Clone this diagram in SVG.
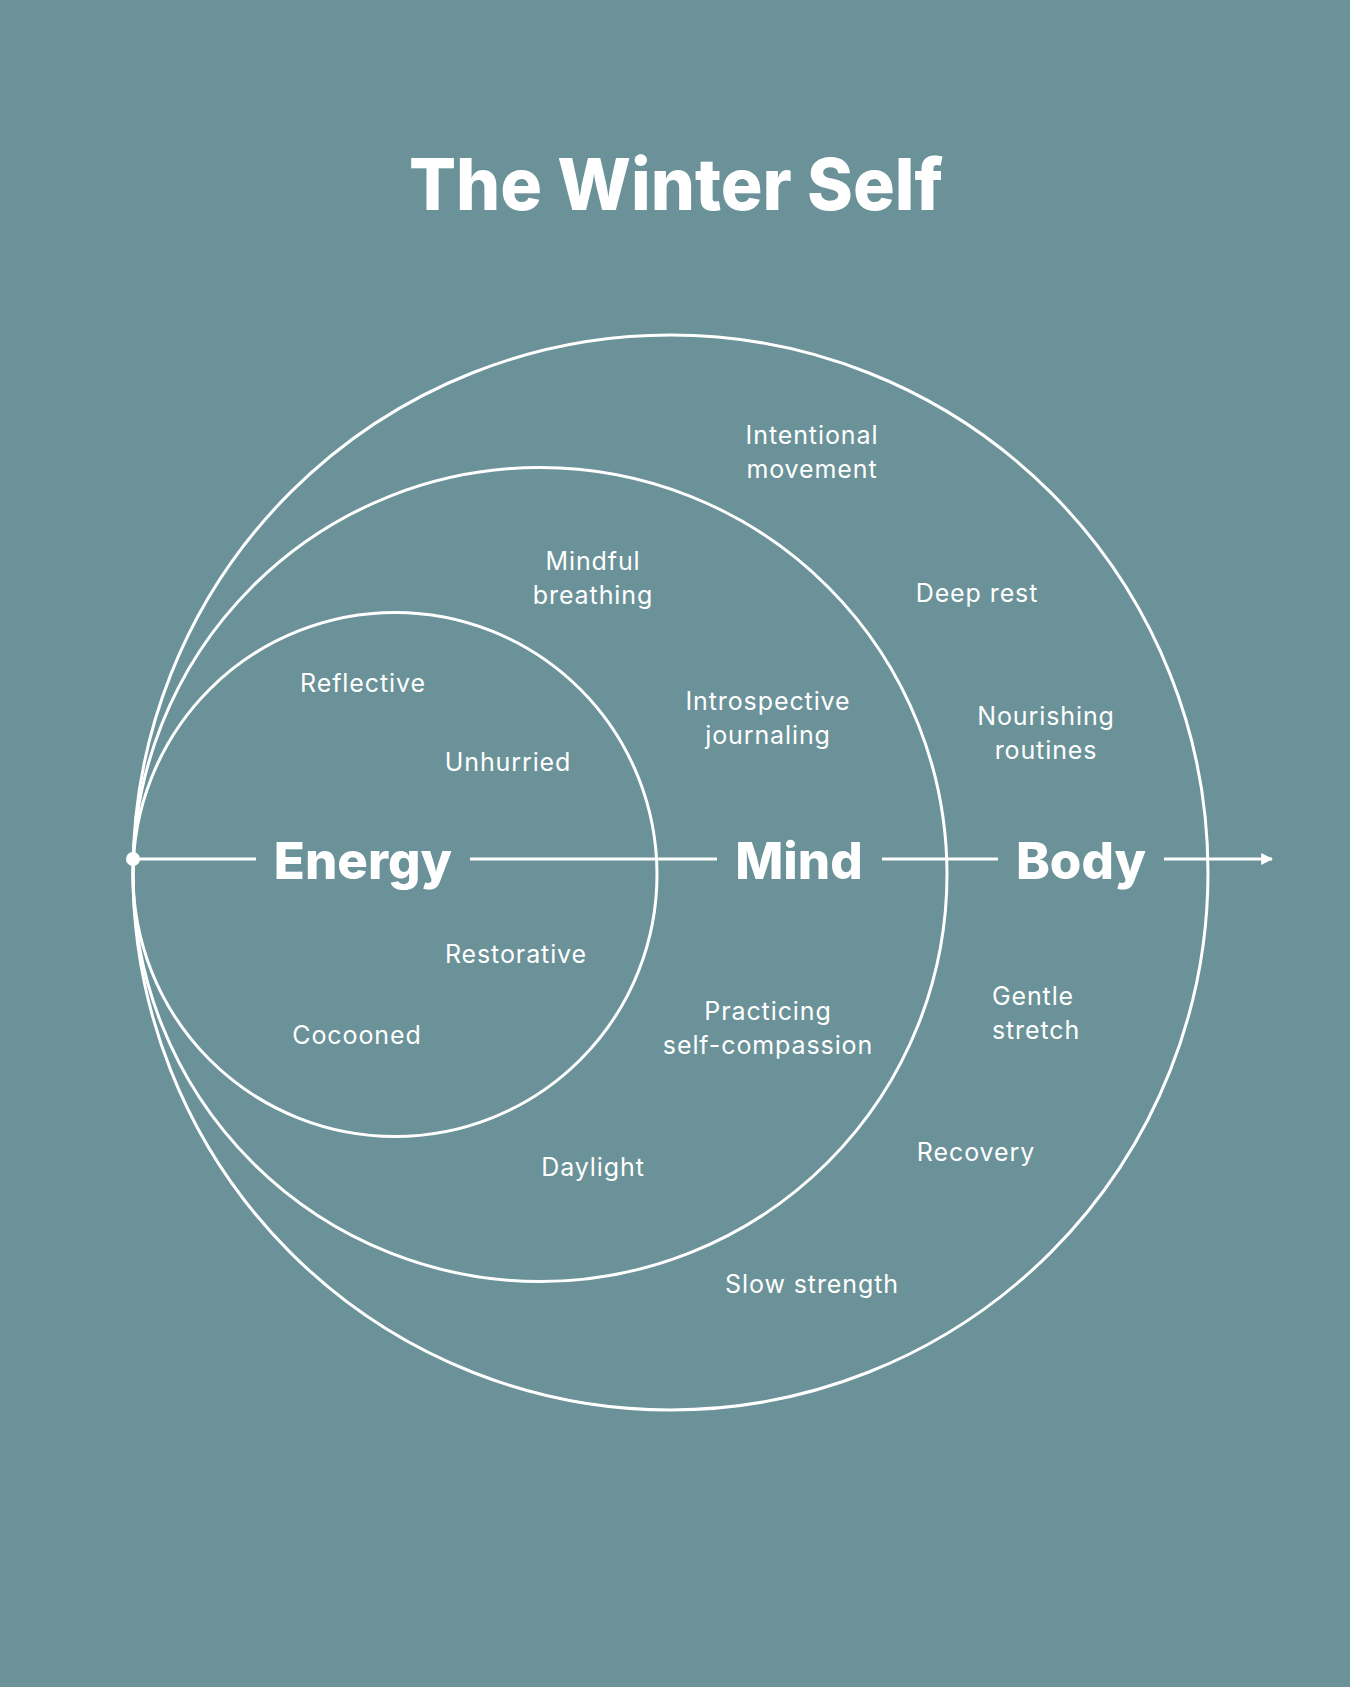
<svg xmlns="http://www.w3.org/2000/svg" width="1350" height="1687" viewBox="0 0 1350 1687">
<style>
.ring{fill:none;stroke:#fff;stroke-width:3}
.ln{stroke:#fff;stroke-width:3;fill:none}
.title{font-family:Inter,"Liberation Sans",sans-serif;font-weight:800;font-size:72px;fill:#fff;text-anchor:middle}
.big{font-family:Inter,"Liberation Sans",sans-serif;font-weight:800;font-size:51px;fill:#fff;text-anchor:middle}
.sm{font-family:Inter,"Liberation Sans",sans-serif;font-weight:400;font-size:25px;letter-spacing:0.9px;fill:#fff;text-anchor:middle}
</style>
<defs>
<marker id="arr" viewBox="0 0 10 10" refX="9" refY="5" markerWidth="4" markerHeight="4" orient="auto" markerUnits="strokeWidth">
<path d="M0,0 L10,5 L0,10 z" fill="#fff"/>
</marker>
</defs>
<rect width="1350" height="1687" fill="#6a9298"/>
<text class="title" x="676" y="210" textLength="534" lengthAdjust="spacingAndGlyphs">The Winter Self</text>
<g id="rings">
<circle id="outer" class="ring" cx="670.5" cy="872.5" r="537.5"/>
<circle id="middle" class="ring" cx="540" cy="874.5" r="407"/>
<circle id="inner" class="ring" cx="395" cy="874.5" r="262"/>
</g>
<g id="connectors">
<circle cx="133" cy="859" r="7" fill="#fff"/>
<line class="ln" x1="133" y1="859" x2="256" y2="859"/>
<line class="ln" x1="470" y1="859" x2="717" y2="859"/>
<line class="ln" x1="882" y1="859" x2="998" y2="859"/>
<line class="ln" x1="1164" y1="859" x2="1272" y2="859" marker-end="url(#arr)"/>
</g>
<g id="energy"><text class="big" x="363" y="879">Energy</text></g>
<g id="mind"><text class="big" x="799" y="879">Mind</text></g>
<g id="body"><text class="big" x="1081" y="879">Body</text></g>
<g id="labels">
<text class="sm" x="812" y="444">Intentional</text>
<text class="sm" x="812" y="478">movement</text>
<text class="sm" x="593" y="570">Mindful</text>
<text class="sm" x="593" y="604">breathing</text>
<text class="sm" x="977" y="602">Deep rest</text>
<text class="sm" x="363" y="692">Reflective</text>
<text class="sm" x="768" y="710">Introspective</text>
<text class="sm" x="768" y="744">journaling</text>
<text class="sm" x="1046" y="725">Nourishing</text>
<text class="sm" x="1046" y="759">routines</text>
<text class="sm" x="508" y="771">Unhurried</text>
<text class="sm" x="516" y="963">Restorative</text>
<text class="sm" x="1033" y="1005">Gentle</text>
<text class="sm" x="1036" y="1039">stretch</text>
<text class="sm" x="768" y="1020">Practicing</text>
<text class="sm" x="768" y="1054">self-compassion</text>
<text class="sm" x="357" y="1044">Cocooned</text>
<text class="sm" x="976" y="1161">Recovery</text>
<text class="sm" x="593" y="1176">Daylight</text>
<text class="sm" x="812" y="1293">Slow strength</text>
</g>
</svg>
